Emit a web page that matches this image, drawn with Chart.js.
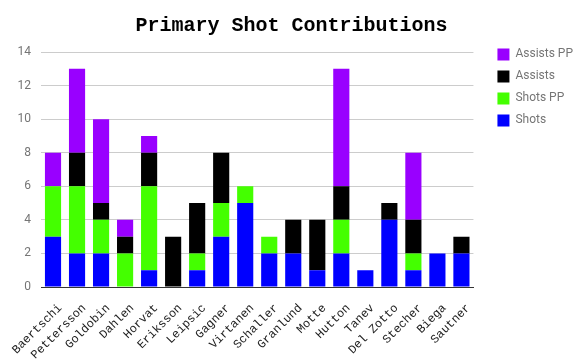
<!DOCTYPE html>
<html>
<head>
<meta charset="utf-8">
<script src="https://cdn.jsdelivr.net/npm/chart.js@4"></script>
<style>
  body { margin: 0; background: #fff; }
  #wrap { width: 583px; height: 363px; }
</style>
</head>
<body>
<div id="wrap"><canvas id="myChart"></canvas></div>
<script>
const players = ["Baertschi", "Pettersson", "Goldobin", "Dahlen", "Horvat", "Eriksson", "Leipsic", "Gagner", "Virtanen", "Schaller", "Granlund", "Motte", "Hutton", "Tanev", "Del Zotto", "Stecher", "Biega", "Sautner"];
const shots     = [3, 2, 2, 0, 1, 0, 1, 3, 5, 2, 2, 1, 2, 1, 4, 1, 2, 2];
const shotsPP   = [3, 4, 2, 2, 5, 0, 1, 2, 1, 1, 0, 0, 2, 0, 0, 1, 0, 0];
const assists   = [0, 2, 1, 1, 2, 3, 3, 3, 0, 0, 2, 3, 2, 0, 1, 2, 0, 1];
const assistsPP = [2, 5, 5, 1, 1, 0, 0, 0, 0, 0, 0, 0, 7, 0, 0, 4, 0, 0];

const ctx = document.getElementById("myChart").getContext("2d");

const bar = { categoryPercentage: 0.8, barPercentage: 0.84 };

const data = {
  labels: players,
  datasets: [
    { label: "Shots", data: shots, backgroundColor: "#0000ff", ...bar },
    { label: "Shots PP", data: shotsPP, backgroundColor: "#44ff00", ...bar },
    { label: "Assists", data: assists, backgroundColor: "#000000", ...bar },
    { label: "Assists PP", data: assistsPP, backgroundColor: "#9900ff", ...bar },
  ],
};

const config = {
  type: "bar",
  data: data,
  options: {
    responsive: true,
    maintainAspectRatio: false,
    animation: false,
    layout: { padding: 0 },
    plugins: {
      title: {
        display: true,
        text: "Primary Shot Contributions",
        color: "#000",
        font: { family: "Liberation Mono", size: 20, weight: "bold" },
        padding: { top: 14, bottom: 14 },
      },
      legend: {
        position: "right",
        align: "start",
        reverse: true,
        // empty title just pushes the items down level with the top gridline
        title: { display: true, text: " ", padding: { top: 12, bottom: 12 }, font: { size: 12 } },
        labels: {
          boxWidth: 12,
          boxHeight: 12,
          padding: 10,
          color: "#757575",
          font: { family: "Roboto", size: 12 },
        },
      },
      tooltip: { enabled: false },
    },
    scales: {
      x: {
        stacked: true,
        grid: { display: false },
        border: { color: "#333" },
        ticks: {
          autoSkip: false,
          maxRotation: 45,
          minRotation: 45,
          padding: 6,
          labelOffset: 7,
          color: "#222",
          font: { family: "Liberation Mono", size: 12 },
        },
        afterFit: (scale) => { scale.height = 76; },
      },
      y: {
        stacked: true,
        min: 0,
        max: 14,
        grid: { color: "#cccccc", drawTicks: false },
        border: { display: false },
        ticks: {
          stepSize: 2,
          padding: 10,
          color: "#757575",
          font: { family: "Roboto", size: 12 },
        },
        afterFit: (scale) => { scale.width = 41; },
      },
      // blank spacer between plot and legend
      gap: {
        position: "right",
        grid: { display: false },
        border: { display: false },
        ticks: { display: false },
        afterFit: (scale) => { scale.width = 14; },
      },
    },
  },
};

const myChart = new Chart(ctx, config);
</script>
</body>
</html>
